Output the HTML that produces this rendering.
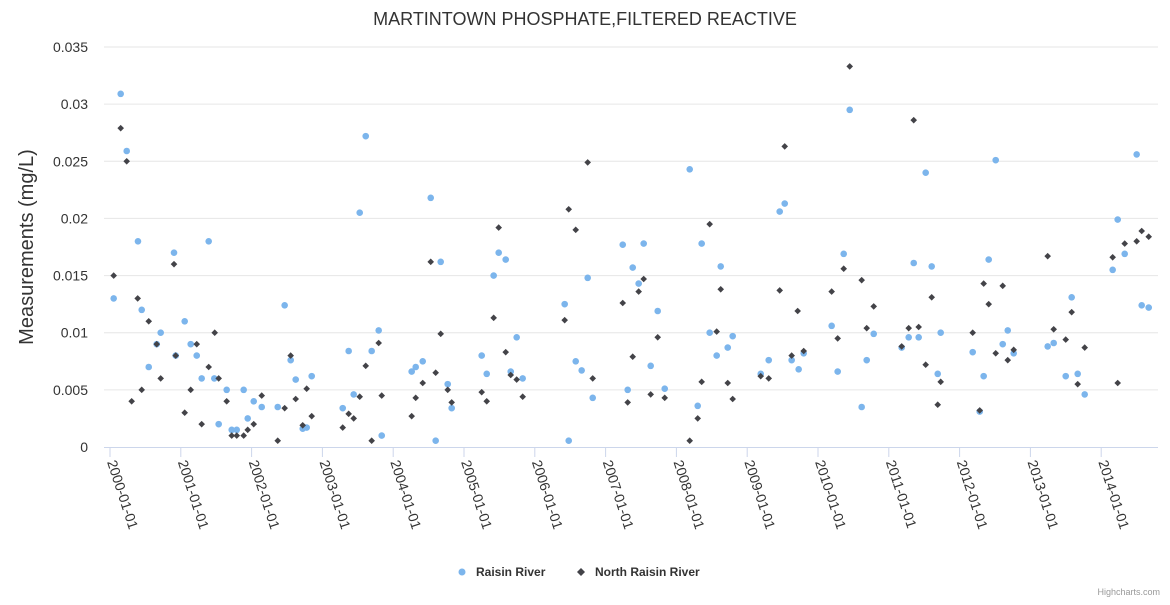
<!DOCTYPE html>
<html><head><meta charset="utf-8"><style>
body{margin:0;background:#fff;font-family:"Liberation Sans",sans-serif}
svg text{font-family:"Liberation Sans",sans-serif}
</style></head><body>
<svg id="chart" width="1170" height="600" xmlns="http://www.w3.org/2000/svg">
<text x="585" y="25" text-anchor="middle" font-size="18" fill="#333">MARTINTOWN PHOSPHATE,FILTERED REACTIVE</text>
<text transform="translate(33,247) rotate(-90)" text-anchor="middle" font-size="20" fill="#333">Measurements (mg/L)</text>
<g id="grid"></g><g id="xaxis"></g><g id="marks"></g>
<g>
<g><circle cx="462" cy="572" r="3.5" fill="#7cb5ec"/><text x="476" y="576" font-size="12" font-weight="bold" fill="#333">Raisin River</text></g>
<g><path d="M581 568 L585 572 L581 576 L577 572 Z" fill="#434348"/><text x="595" y="576" font-size="12" font-weight="bold" fill="#333">North Raisin River</text></g>
</g>
<text x="1160" y="595" text-anchor="end" font-size="9" fill="#999">Highcharts.com</text>
</svg>
<script>
const yTicks=[0,0.005,0.01,0.015,0.02,0.025,0.03,0.035];
const yTickLabels=["0","0.005","0.01","0.015","0.02","0.025","0.03","0.035"];
const xTickYears=[2000,2001,2002,2003,2004,2005,2006,2007,2008,2009,2010,2011,2012,2013,2014];
const raisinYears=[0.052,0.151,0.236,0.395,0.448,0.547,0.660,0.716,0.904,0.928,1.055,1.140,1.225,1.295,1.394,1.473,1.535,1.648,1.719,1.790,1.888,1.945,2.030,2.143,2.369,2.467,2.552,2.623,2.722,2.778,2.849,3.287,3.371,3.442,3.527,3.612,3.696,3.795,3.838,4.261,4.318,4.417,4.530,4.600,4.671,4.770,4.826,5.250,5.321,5.419,5.490,5.589,5.660,5.744,5.829,6.422,6.479,6.578,6.662,6.747,6.818,7.242,7.312,7.383,7.467,7.538,7.637,7.736,7.835,8.188,8.301,8.357,8.470,8.569,8.626,8.725,8.795,9.191,9.304,9.459,9.530,9.628,9.727,9.798,10.193,10.278,10.363,10.448,10.617,10.688,10.787,11.182,11.281,11.352,11.422,11.521,11.606,11.691,11.733,12.185,12.284,12.340,12.411,12.510,12.609,12.680,12.764,13.244,13.329,13.499,13.583,13.668,13.767,14.162,14.233,14.332,14.501,14.572,14.671];
const raisinValues=[0.0130,0.0309,0.0259,0.018,0.012,0.0070,0.0090,0.0100,0.0170,0.0080,0.0110,0.0090,0.0080,0.0060,0.0180,0.0060,0.0020,0.0050,0.0015,0.0015,0.0050,0.0025,0.0040,0.0035,0.0035,0.0124,0.0076,0.0059,0.0016,0.0017,0.0062,0.0034,0.0084,0.0046,0.0205,0.0272,0.0084,0.0102,0.0010,0.0066,0.0070,0.0075,0.0218,0.00055,0.0162,0.0055,0.0034,0.0080,0.0064,0.0150,0.0170,0.0164,0.0066,0.0096,0.0060,0.0125,0.00055,0.0075,0.0067,0.0148,0.0043,0.0177,0.0050,0.0157,0.0143,0.0178,0.0071,0.0119,0.0051,0.0243,0.0036,0.0178,0.0100,0.0080,0.0158,0.0087,0.0097,0.0064,0.0076,0.0206,0.0213,0.0076,0.0068,0.0082,0.0106,0.0066,0.0169,0.0295,0.0035,0.0076,0.0099,0.0087,0.0096,0.0161,0.0096,0.0240,0.0158,0.0064,0.0100,0.0083,0.0031,0.0062,0.0164,0.0251,0.0090,0.0102,0.0082,0.0088,0.0091,0.0062,0.0131,0.0064,0.0046,0.0155,0.0199,0.0169,0.0256,0.0124,0.0122];
const northYears=[0.052,0.151,0.236,0.306,0.391,0.448,0.547,0.660,0.716,0.904,0.928,1.055,1.140,1.225,1.295,1.394,1.479,1.535,1.648,1.719,1.790,1.888,1.945,2.030,2.143,2.369,2.467,2.552,2.623,2.722,2.778,2.849,3.287,3.371,3.442,3.527,3.612,3.696,3.795,3.838,4.261,4.318,4.417,4.530,4.600,4.671,4.770,4.826,5.250,5.321,5.419,5.490,5.589,5.660,5.744,5.829,6.422,6.479,6.578,6.747,6.818,7.242,7.312,7.383,7.467,7.538,7.637,7.736,7.835,8.188,8.301,8.357,8.470,8.569,8.626,8.725,8.795,9.191,9.304,9.459,9.530,9.628,9.713,9.798,10.193,10.278,10.363,10.448,10.617,10.688,10.787,11.182,11.281,11.352,11.422,11.521,11.606,11.691,11.733,12.185,12.284,12.340,12.411,12.510,12.609,12.680,12.764,13.244,13.329,13.499,13.583,13.668,13.767,14.162,14.233,14.332,14.501,14.572,14.671];
const northValues=[0.0150,0.0279,0.0250,0.0040,0.0130,0.0050,0.0110,0.0090,0.0060,0.0160,0.0080,0.0030,0.0050,0.0090,0.0020,0.0070,0.0100,0.0060,0.0040,0.0010,0.0010,0.0010,0.0015,0.0020,0.0045,0.00055,0.0034,0.0080,0.0042,0.0019,0.0051,0.0027,0.0017,0.0029,0.0025,0.0044,0.0071,0.00055,0.0091,0.0045,0.0027,0.0043,0.0056,0.0162,0.0065,0.0099,0.0050,0.0039,0.0048,0.0040,0.0113,0.0192,0.0083,0.0063,0.0059,0.0044,0.0111,0.0208,0.0190,0.0249,0.0060,0.0126,0.0039,0.0079,0.0136,0.0147,0.0046,0.0096,0.0043,0.00055,0.0025,0.0057,0.0195,0.0101,0.0138,0.0056,0.0042,0.0062,0.0060,0.0137,0.0263,0.0080,0.0119,0.0084,0.0136,0.0095,0.0156,0.0333,0.0146,0.0104,0.0123,0.0088,0.0104,0.0286,0.0105,0.0072,0.0131,0.0037,0.0057,0.0100,0.0032,0.0143,0.0125,0.0082,0.0141,0.0076,0.0085,0.0167,0.0103,0.0094,0.0118,0.0055,0.0087,0.0166,0.0056,0.0178,0.0180,0.0189,0.0184];

const NS="http://www.w3.org/2000/svg";
const X0=110, PXY=70.8, Y0=447, YMAX=0.035, YTOP=47, LEFT=104, RIGHT=1158;
function xs(t){return X0+t*PXY;}
function ys(v){return Y0-(v/YMAX)*(Y0-YTOP);}
function mk(tag,attrs,parent){const e=document.createElementNS(NS,tag);for(const k in attrs)e.setAttribute(k,attrs[k]);parent.appendChild(e);return e;}
const grid=document.getElementById('grid'),xa=document.getElementById('xaxis'),marks=document.getElementById('marks');
yTicks.forEach((v,i)=>{
  if(i>0){const l=mk('line',{x1:LEFT,x2:RIGHT,y1:ys(v),y2:ys(v),stroke:'#e6e6e6','stroke-width':1},grid);
  
  }
  const t=mk('text',{x:88,y:ys(v)+5,'text-anchor':'end','font-size':14,fill:'#333'},grid);
  t.textContent=yTickLabels[i];
  
  
});
const axl=mk('line',{x1:LEFT,x2:RIGHT,y1:Y0+0.5,y2:Y0+0.5,stroke:'#ccd6eb','stroke-width':1},xa);


xTickYears.forEach(yr=>{
  const x=xs(yr-2000);
  const tk=mk('line',{x1:x,x2:x,y1:Y0,y2:Y0+10,stroke:'#ccd6eb','stroke-width':1},xa);
  
  
  const t=mk('text',{x:0,y:0,'font-size':14,fill:'#333',transform:`translate(${x-3},${Y0+15}) rotate(72)`},xa);
  t.textContent=yr+'-01-01';
  
  
});
raisinYears.forEach((t,i)=>{
  const c=mk('circle',{cx:xs(t),cy:ys(raisinValues[i]),r:3.3,fill:'#7cb5ec'},marks);
  
  
});
northYears.forEach((t,i)=>{
  const x=xs(t),y=ys(northValues[i]);
  const p=mk('path',{d:`M${x} ${y-3.3} L${x+3.3} ${y} L${x} ${y+3.3} L${x-3.3} ${y} Z`,fill:'#434348'},marks);
  
  
});
</script>
</body></html>
